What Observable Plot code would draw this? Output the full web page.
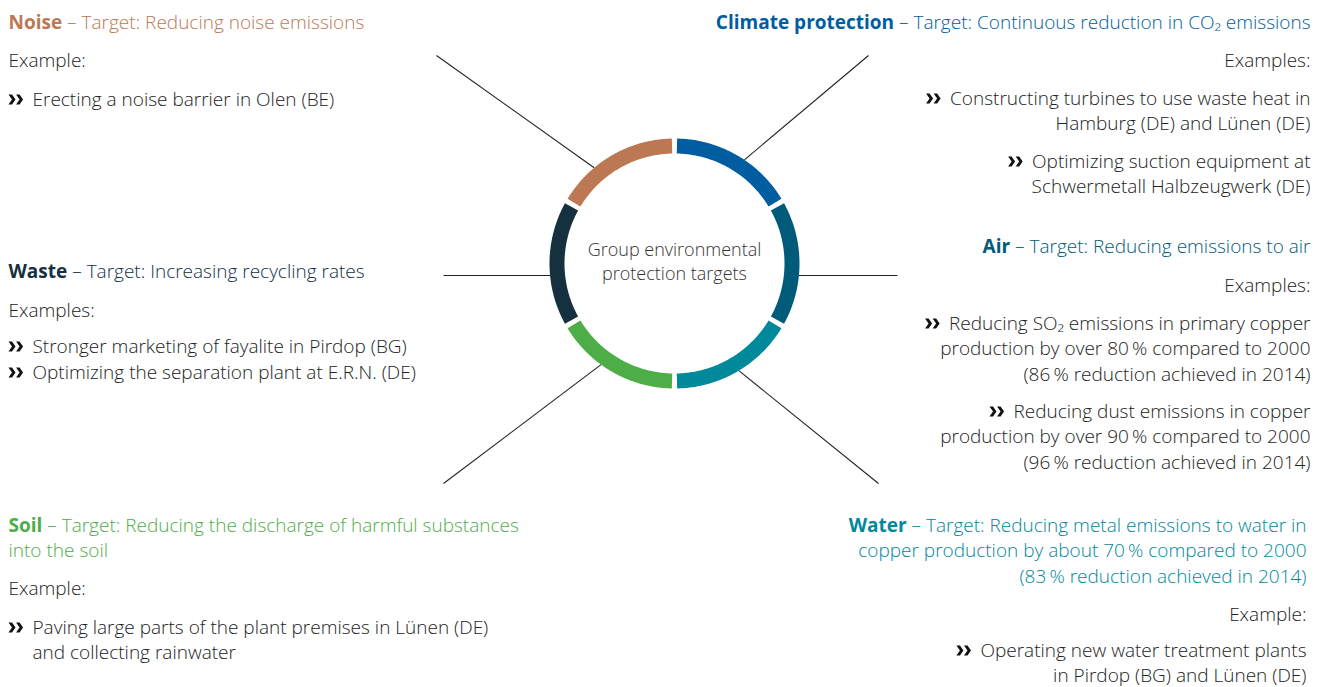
<!DOCTYPE html>
<html>
<head>
<meta charset="utf-8">
<script src="https://cdn.jsdelivr.net/npm/d3@7"></script>
<script src="https://cdn.jsdelivr.net/npm/@observablehq/plot@0.6"></script>
<style>
  html, body { margin: 0; padding: 0; background: #fff; }
  #chart svg { display: block; }
</style>
</head>
<body>
<div id="chart"></div>
<script>
// ---------------- DATA ----------------
const categories = ["Climate protection", "Air", "Water", "Soil", "Waste", "Noise"];
const ringColors = ["#005DA0", "#005B7A", "#00889B", "#4DAE48", "#15303F", "#BC7853"];
const targetLines = [
  ["– Target: Continuous reduction in CO₂ emissions"],
  ["– Target: Reducing emissions to air"],
  ["– Target: Reducing metal emissions to water in", "copper production by about 70\u2009% compared to 2000", "(83\u2009% reduction achieved in 2014)"],
  ["– Target: Reducing the discharge of harmful substances", "into the soil"],
  ["– Target: Increasing recycling rates"],
  ["– Target: Reducing noise emissions"]
];
const exampleHeads = ["Examples:", "Examples:", "Example:", "Example:", "Examples:", "Example:"];
const examples = [
  [["Constructing turbines to use waste heat in", "Hamburg (DE) and Lünen (DE)"],
   ["Optimizing suction equipment at", "Schwermetall Halbzeugwerk (DE)"]],
  [["Reducing SO₂ emissions in primary copper", "production by over 80\u2009% compared to 2000", "(86\u2009% reduction achieved in 2014)"],
   ["Reducing dust emissions in copper", "production by over 90\u2009% compared to 2000", "(96\u2009% reduction achieved in 2014)"]],
  [["Operating new water treatment plants", "in Pirdop (BG) and Lünen (DE)"]],
  [["Paving large parts of the plant premises in Lünen (DE)", "and collecting rainwater"]],
  [["Stronger marketing of fayalite in Pirdop (BG)"], ["Optimizing the separation plant at E.R.N. (DE)"]],
  [["Erecting a noise barrier in Olen (BE)"]]
];
const centerLabel = ["Group environmental", "protection targets"];

// ---------------- LAYOUT ----------------
const W = 1325, H = 687;
const FONT = "'Open Sans', 'DejaVu Sans', sans-serif";
const FS = 19, LH = 25.5;
const ring = {cx: 674, cy: 263, r: 117.5, width: 15, gapDeg: 2.4};
const blocks = [
  {align: "end",   x: 1310, title: 22,  head: 60,  bullets: [98, 161]},
  {align: "end",   x: 1310, title: 246, head: 285, bullets: [323, 411]},
  {align: "end",   x: 1306, title: 525, head: 614, bullets: [650]},
  {align: "start", x: 8,    title: 525, head: 588, bullets: [627]},
  {align: "start", x: 8,    title: 271, head: 310, bullets: [346, 372]},
  {align: "start", x: 8,    title: 22,  head: 60,  bullets: [99]}
];
const connectors = [
  {angle: 34,    x2: 868, y2: 55},
  {angle: 95.5,  x2: 897, y2: 275},
  {angle: 149,   x2: 878, y2: 483},
  {angle: 216,   x2: 443, y2: 483},
  {angle: 264.5, x2: 443, y2: 275},
  {angle: 320,   x2: 436, y2: 55}
];

// text measuring
const ctx = document.createElement("canvas").getContext("2d");
function tw(text, weight, size = FS, family = FONT) {
  ctx.font = `${weight} ${size}px ${family}`;
  return ctx.measureText(text).width;
}
const polar = (deg, r) => {
  const a = deg * Math.PI / 180;
  return [ring.cx + r * Math.sin(a), ring.cy - r * Math.cos(a)];
};

// ring arc points
const arcPts = [];
categories.forEach((c, i) => {
  const a0 = i * 360 / categories.length + ring.gapDeg / 2;
  const a1 = (i + 1) * 360 / categories.length - ring.gapDeg / 2;
  const n = 80;
  for (let k = 0; k <= n; k++) {
    const [x, y] = polar(a0 + (a1 - a0) * k / n, ring.r);
    arcPts.push({cat: c, color: ringColors[i], x, y});
  }
});

// connectors
const links = connectors.map((d, i) => {
  const [x1, y1] = polar(d.angle, ring.r + ring.width / 2);
  return {cat: categories[i], x1, y1, x2: d.x2, y2: d.y2};
});

// texts
const texts = [];   // {x,y,text,fill,anchor,weight}
const bullets = []; // {x,y} (centre of the bullet symbol)
const BODY = "#222";
const BULLET_GAP = 24, BULLET_R = 7;
categories.forEach((c, i) => {
  const b = blocks[i], col = ringColors[i];
  const sp = tw(" ", 300);
  targetLines[i].forEach((line, j) => {
    const y = b.title + j * LH;
    if (j === 0) {
      if (b.align === "start") {
        texts.push({x: b.x, y, text: c, fill: col, anchor: "start", weight: 700});
        texts.push({x: b.x + tw(c, 700) + sp, y, text: line, fill: col, anchor: "start", weight: 300});
      } else {
        texts.push({x: b.x, y, text: line, fill: col, anchor: "end", weight: 300});
        texts.push({x: b.x - tw(line, 300) - sp, y, text: c, fill: col, anchor: "end", weight: 700});
      }
    } else {
      texts.push({x: b.x, y, text: line, fill: col, anchor: b.align, weight: 300});
    }
  });
  texts.push({x: b.x, y: b.head, text: exampleHeads[i], fill: BODY, anchor: b.align, weight: 300});
  examples[i].forEach((ex, k) => {
    const y0 = b.bullets[k];
    ex.forEach((line, j) => {
      const x = b.align === "start" ? b.x + BULLET_GAP : b.x;
      texts.push({x, y: y0 + j * LH, text: line, fill: BODY, anchor: b.align, weight: 300});
    });
    const bx = b.align === "start" ? b.x : b.x - tw(ex[0], 300) - BULLET_GAP;
    bullets.push({x: bx + BULLET_R, y: y0});
  });
});

const textMarks = [];
for (const anchor of ["start", "end"]) {
  for (const weight of [300, 700]) {
    const sub = texts.filter(d => d.anchor === anchor && d.weight === weight);
    if (sub.length) textMarks.push(Plot.text(sub, {
      x: "x", y: "y", text: "text", fill: "fill",
      textAnchor: anchor, fontWeight: weight, fontSize: FS, fontFamily: FONT
    }));
  }
}
const centerTexts = centerLabel.map((t, j) => ({x: ring.cx, y: 250 + j * 24, text: t}));

// double-chevron bullet symbol
const chevrons = {
  draw(context, size) {
    const r = Math.sqrt(size / Math.PI);
    const h = 0.72 * r, t = 0.5 * r, ext = 0.5 * r;
    for (const a of [-r, -r + t + ext + 0.08 * r]) {
      context.moveTo(a, -h);
      context.lineTo(a + t, -h);
      context.lineTo(a + t + ext, 0);
      context.lineTo(a + t, h);
      context.lineTo(a, h);
      context.lineTo(a + ext, 0);
      context.closePath();
    }
  }
};

const chart = Plot.plot({
  width: W, height: H,
  margin: 0,
  x: {domain: [0, W], range: [0, W], axis: null},
  y: {domain: [0, H], range: [0, H], axis: null},
  color: {type: "identity"},
  style: {background: "#fff"},
  marks: [
    Plot.link(links, {x1: "x1", y1: "y1", x2: "x2", y2: "y2", stroke: "#222", strokeWidth: 1.1}),
    Plot.line(arcPts, {x: "x", y: "y", z: "cat", stroke: "color", strokeWidth: ring.width, strokeLinecap: "butt", curve: "linear"}),
    ...textMarks,
    Plot.text(centerTexts, {x: "x", y: "y", text: "text", textAnchor: "middle", fontWeight: 300, fontSize: 18, fontFamily: FONT, fill: "#333"}),
    Plot.dot(bullets, {x: "x", y: "y", r: BULLET_R, symbol: chevrons, fill: "#111", stroke: "none"})
  ]
});
document.getElementById("chart").append(chart);
</script>
</body>
</html>
